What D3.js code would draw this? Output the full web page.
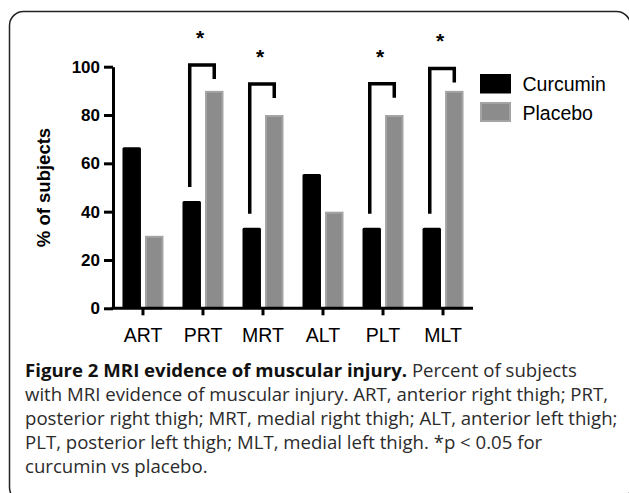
<!DOCTYPE html>
<html lang='en'>
<head>
  <meta charset='UTF-8'>
  <title>MRI evidence of muscular injury</title>
  <style>
  body {
    margin: 0;
    background: white;
  }
  .axis text {
    font-family: 'Liberation Sans', Arial, sans-serif;
    fill: black;
  }
  .y.axis text {
    font-size: 17px;
    font-weight: bold;
  }
  .x.axis text {
    font-size: 19.5px;
  }
  .axis path, .axis line {
    stroke: black;
    stroke-width: 3px;
  }
  .legend text {
    font-family: 'Liberation Sans', Arial, sans-serif;
    font-size: 19.5px;
  }
  .caption {
    font-family: 'Open Sans', sans-serif;
    font-size: 18.6px;
    fill: #2b2b2b;
  }
  </style>
  <script src='https://d3js.org/d3.v7.min.js'></script>
</head>
<body>
  <script>

  var categories = ['ART', 'PRT', 'MRT', 'ALT', 'PLT', 'MLT'];
  var series = ['Curcumin', 'Placebo'];
  var curcumin = [66.7, 44.4, 33.3, 55.6, 33.3, 33.3];
  var placebo = [30, 90, 80, 40, 80, 90];
  var yTicks = [0, 20, 40, 60, 80, 100];

  // significance brackets (top of bracket in % units)
  var sigGroups = ['PRT', 'MRT', 'PLT', 'MLT'];
  var sigTops = [100.7, 92.8, 92.9, 99.3];

  var captionLines = [
    ['Figure 2 MRI evidence of muscular injury.', ' Percent of subjects'],
    ['', 'with MRI evidence of muscular injury. ART, anterior right thigh; PRT,'],
    ['', 'posterior right thigh; MRT, medial right thigh; ALT, anterior left thigh;'],
    ['', 'PLT, posterior left thigh; MLT, medial left thigh. *p < 0.05 for'],
    ['', 'curcumin vs placebo.']
  ];

  var svg = d3.select('body').append('svg')
    .attr('width', 629)
    .attr('height', 493);

  // frame
  svg.append('rect')
    .attr('x', 9.5).attr('y', 11.5)
    .attr('width', 621).attr('height', 490)
    .attr('rx', 14)
    .attr('fill', 'none')
    .attr('stroke', '#222')
    .attr('stroke-width', 1.5);

  var x0 = d3.scaleBand().domain(categories).range([113, 473])
    .paddingInner(0.317).paddingOuter(0.158);
  var x1 = d3.scaleBand().domain(series).range([0, x0.bandwidth()]).paddingInner(0.18);
  var y = d3.scaleLinear().domain([0, 100]).range([308.3, 66.7]);

  var rows = categories.map(function (c, i) {
    return { cat: c, values: [curcumin[i], placebo[i]] };
  });

  // bars

  var groups = svg.selectAll('.group')
    .data(rows)
    .enter().append('g')
    .attr('transform', function (d) { return 'translate(' + x0(d.cat) + ',0)'; });

  groups.selectAll('rect')
    .data(function (d) { return d.values.map(function (v, j) { return { s: series[j], v: v }; }); })
    .enter().append('rect')
    .attr('x', function (d) { return x1(d.s) + (d.s === 'Placebo' ? 1 : 0); })
    .attr('y', function (d) { return y(d.v) + (d.s === 'Placebo' ? 1 : 0); })
    .attr('width', function (d) { return x1.bandwidth() - (d.s === 'Placebo' ? 2 : 0); })
    .attr('height', function (d) { return y(0) - y(d.v) - (d.s === 'Placebo' ? 1 : 0); })
    .attr('rx', function (d) { return d.s === 'Placebo' ? 0 : 1.5; })
    .attr('fill', function (d) { return d.s === 'Placebo' ? '#8c8c8c' : '#000'; })
    .attr('stroke', function (d) { return d.s === 'Placebo' ? '#a4a4a4' : 'none'; })
    .attr('stroke-width', 2);

  // axes

  svg.append('g')
    .attr('class', 'y axis')
    .attr('transform', 'translate(113,0)')
    .call(d3.axisLeft(y).tickValues(yTicks).tickSize(9).tickSizeOuter(0).tickPadding(4));

  svg.append('g')
    .attr('class', 'x axis')
    .attr('transform', 'translate(0,308.3)')
    .call(d3.axisBottom(x0).tickSize(7).tickSizeOuter(0).tickPadding(13));

  svg.select('.x.axis .domain').attr('d', 'M111.5,0H473');

  svg.append('text')
    .attr('transform', 'translate(50,' + (y(0) + y(100)) / 2 + ') rotate(-90)')
    .attr('text-anchor', 'middle')
    .style('font-family', "'Liberation Sans', Arial, sans-serif")
    .style('font-weight', 'bold')
    .style('font-size', '18.5px')
    .text('% of subjects');

  // significance brackets

  sigGroups.forEach(function (g, k) {
    var i = categories.indexOf(g);
    var left = x0(g) + x1('Curcumin') + x1.bandwidth() / 2 - 2;
    var right = x0(g) + x1('Placebo') + x1.bandwidth() / 2;
    var top = y(sigTops[k]);
    var leftBottom = y(curcumin[i]) - 14;
    var rightBottom = top + 14;

    svg.append('path')
      .attr('d', 'M' + left + ',' + leftBottom + 'V' + top + 'H' + right + 'V' + rightBottom)
      .attr('fill', 'none')
      .attr('stroke', 'black')
      .attr('stroke-width', 3.5);

    svg.append('text')
      .attr('x', (left + right) / 2 - 2)
      .attr('y', top - 31 + 11)
      .attr('text-anchor', 'middle')
      .style('font-family', "'Liberation Sans', Arial, sans-serif")
      .style('font-weight', 'bold')
      .style('font-size', '21px')
      .text('*');
  });

  // legend

  var legend = svg.append('g').attr('class', 'legend');

  legend.selectAll('rect')
    .data(series)
    .enter().append('rect')
    .attr('x', function (d) { return d === 'Placebo' ? 481 : 480; })
    .attr('y', function (d, i) { return 74 + i * 28 + (d === 'Placebo' ? 1 : 0); })
    .attr('width', function (d) { return d === 'Placebo' ? 29 : 31; })
    .attr('height', function (d) { return d === 'Placebo' ? 18 : 19.5; })
    .attr('fill', function (d) { return d === 'Placebo' ? '#8c8c8c' : '#000'; })
    .attr('stroke', function (d) { return d === 'Placebo' ? '#a4a4a4' : 'none'; })
    .attr('stroke-width', 2);

  legend.selectAll('text')
    .data(series)
    .enter().append('text')
    .attr('x', 522.5)
    .attr('y', function (d, i) { return 91 + i * 28.5; })
    .text(function (d) { return d; });

  // caption

  var caption = svg.append('text')
    .attr('class', 'caption');

  captionLines.forEach(function (line, i) {
    var t = caption.append('tspan')
      .attr('x', 25)
      .attr('y', 376.5 + i * 24);
    if (line[0]) {
      t.append('tspan').style('font-weight', 'bold').style('fill', '#111').text(line[0]);
      caption.append('tspan').style('white-space', 'pre').text(line[1]);
    } else {
      t.text(line[1]);
    }
  });
  </script>
</body>
</html>
